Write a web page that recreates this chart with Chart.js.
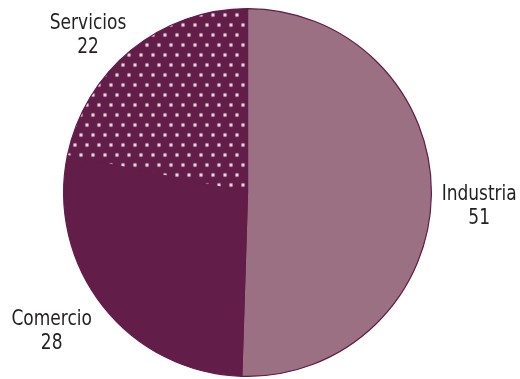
<!DOCTYPE html>
<html>
<head>
<meta charset="utf-8">
<script src="https://cdn.jsdelivr.net/npm/chart.js@4/dist/chart.umd.min.js"></script>
<style>
    html, body { margin: 0; padding: 0; background: #ffffff; }
    #wrap { position: relative; width: 520px; height: 379px; }
</style>
</head>
<body>
<div id="wrap"><canvas id="pie-canvas"></canvas></div>
<script>
const sectors = ['Industria', 'Comercio', 'Servicios'];
const shares = [51, 28, 22];

const lightColor = '#9b7082';
const darkColor = '#621d48';
const textColor = '#231f20';

// small shifts of each label away from the slice middle line, in px
const labelNudge = [[0, 10], [-14, -5], [-13, 22]];

function dotPattern() {
    const tile = document.createElement('canvas');
    tile.width = 12;
    tile.height = 20;
    const g = tile.getContext('2d');
    g.fillStyle = darkColor;
    g.fillRect(0, 0, 12, 20);
    [[3, 5], [9, 15]].forEach(([x, y]) => {
        g.fillStyle = '#a9809a';
        g.beginPath();
        g.arc(x, y, 2.2, 0, Math.PI * 2);
        g.fill();
        g.fillStyle = '#e8d8e0';
        g.beginPath();
        g.arc(x, y, 1.2, 0, Math.PI * 2);
        g.fill();
    });
    return g.createPattern(tile, 'repeat');
}

// labels sit outside the pie, on the middle angle of each slice
const outsideLabels = {
    id: 'outsideLabels',
    afterDraw(chart) {
        const ctx = chart.ctx;
        const arcs = chart.getDatasetMeta(0).data;
        arcs.forEach((arc, i) => {
            const mid = (arc.startAngle + arc.endAngle) / 2;
            const r = arc.outerRadius * 1.26;
            const x = arc.x + Math.cos(mid) * r + labelNudge[i][0];
            const y = arc.y + Math.sin(mid) * r + labelNudge[i][1];
            ctx.save();
            ctx.translate(x, y);
            ctx.scale(0.86, 1);
            ctx.fillStyle = textColor;
            ctx.font = "22px 'DejaVu Sans Condensed', 'DejaVu Sans', sans-serif";
            ctx.textAlign = 'center';
            ctx.textBaseline = 'middle';
            ctx.fillText(sectors[i], 0, -12);
            ctx.fillText(String(shares[i]), 0, 12);
            ctx.restore();
        });
    }
};

const ctx = document.getElementById('pie-canvas').getContext('2d');

new Chart(ctx, {
    type: 'pie',
    data: {
        labels: sectors,
        datasets: [{
            data: shares,
            backgroundColor: [lightColor, darkColor, dotPattern()],
            borderColor: darkColor,
            borderWidth: 1.2,
            hoverOffset: 0
        }]
    },
    options: {
        responsive: true,
        maintainAspectRatio: false,
        animation: false,
        layout: {
            padding: { top: 8, bottom: 2, left: 63, right: 88 }
        },
        plugins: {
            legend: { display: false },
            tooltip: { enabled: false }
        }
    },
    plugins: [outsideLabels]
});
</script>
</body>
</html>
